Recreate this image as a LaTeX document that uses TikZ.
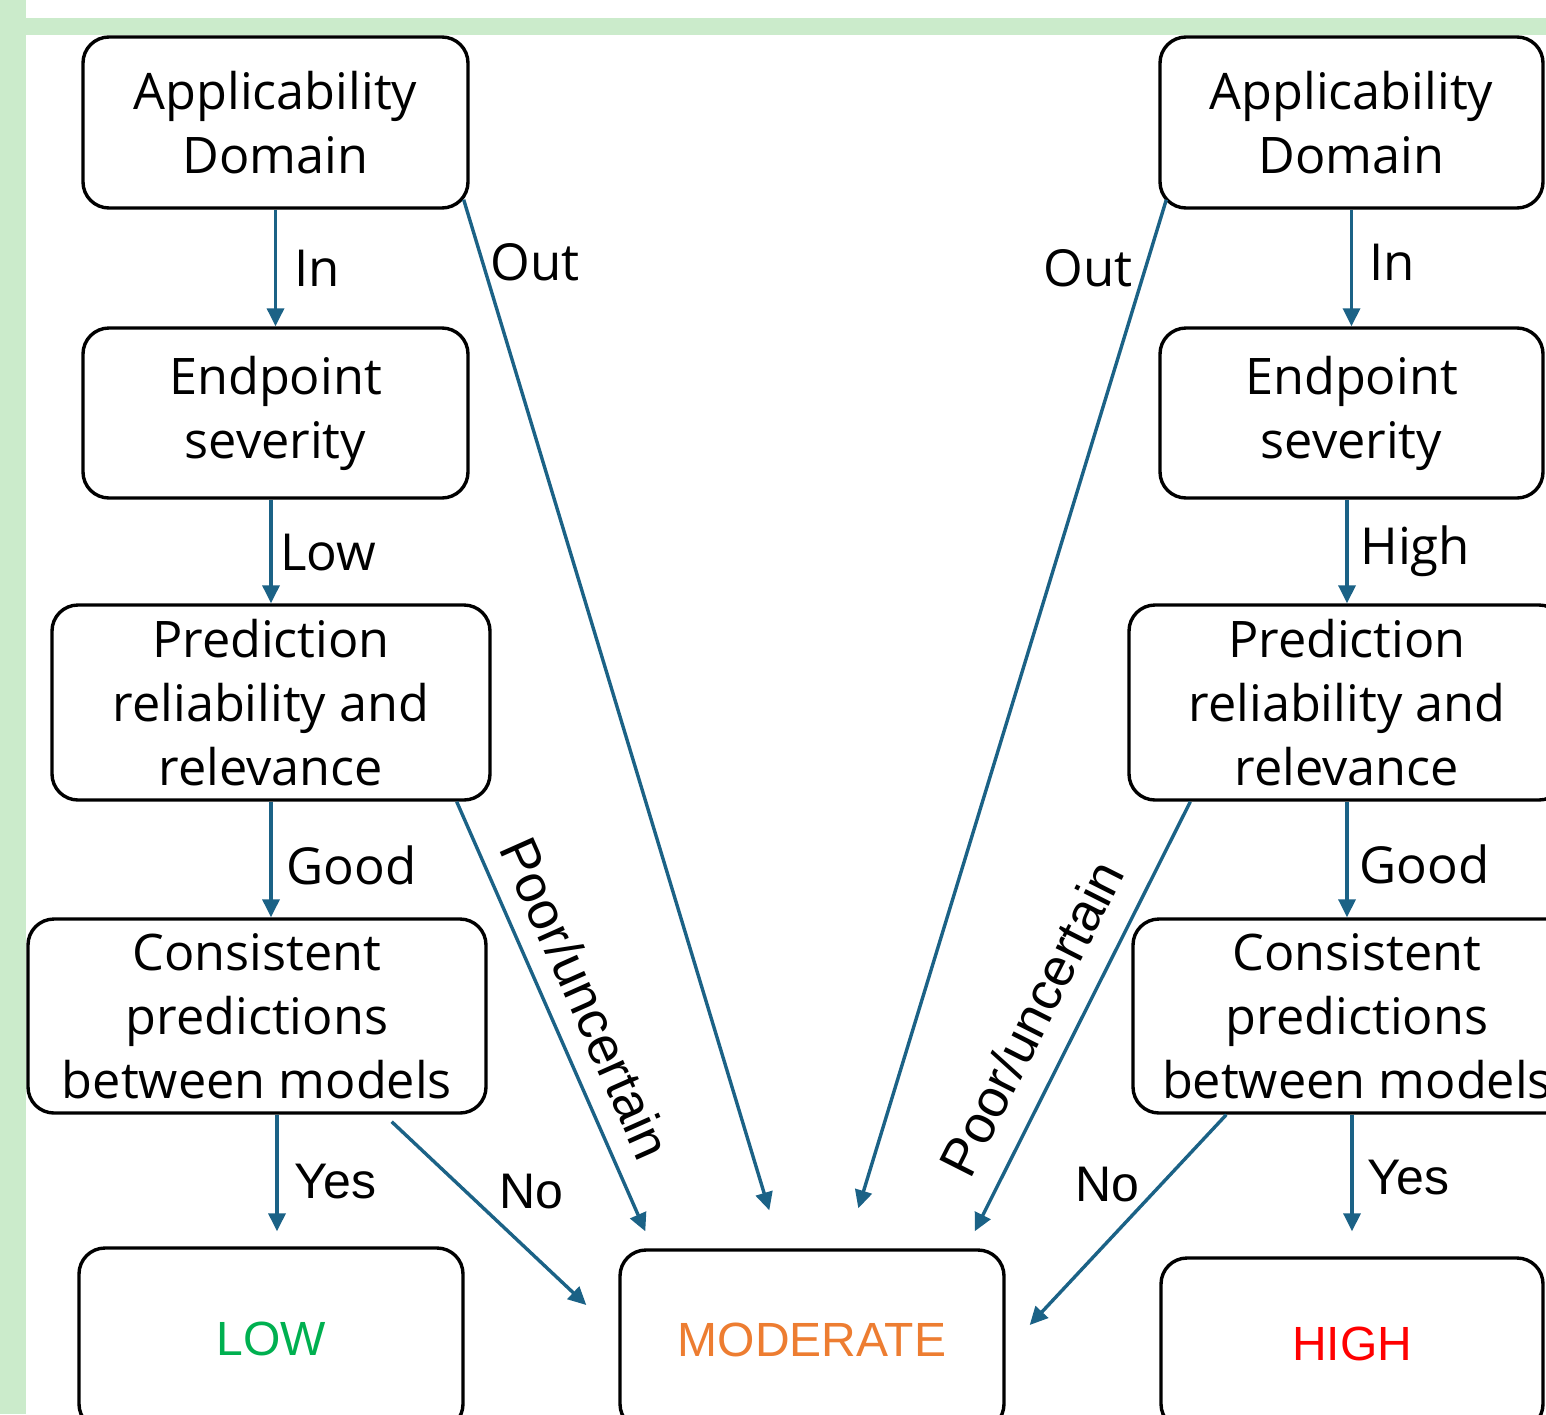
\documentclass[tikz,border=0pt]{standalone}
\usepackage{fontspec}
\setmainfont{Open Sans}
\newfontfamily\arialf{Liberation Sans}
\usetikzlibrary{arrows.meta,calc}
\definecolor{bandgreen}{RGB}{203,235,203}
\definecolor{arrowblue}{RGB}{27,98,134}
\definecolor{lowgreen}{RGB}{0,176,80}
\definecolor{modorange}{RGB}{237,125,49}
\definecolor{highred}{RGB}{255,0,0}
\begin{document}
\begin{tikzpicture}[x=0.5pt,y=-0.5pt,
 box/.style={draw=black, line width=1.7pt, rounded corners=13pt, align=center, font=\fontsize{25.2}{32}\selectfont, inner sep=0pt},
 outbox/.style={draw=black, line width=1.7pt, rounded corners=13pt, font=\arialf\fontsize{24}{28}\selectfont, inner sep=0pt},
 arr/.style={draw=arrowblue, line width=1.7pt, -{Triangle[length=9pt,width=8.5pt]}},
 lbl/.style={font=\fontsize{25.5}{32}\selectfont, inner sep=0pt},
 albl/.style={font=\arialf\fontsize{25}{28}\selectfont, inner sep=0pt},
 rlbl/.style={font=\arialf\fontsize{26.5}{30}\selectfont, inner sep=0pt},
]
\useasboundingbox (0,0) rectangle (1546,1414);
\fill[white] (0,0) rectangle (1546,1414);
\fill[bandgreen] (0,0) rectangle (26,1414);
\fill[bandgreen] (26,18) rectangle (1546,35);
\begin{scope}
\clip (0,0) rectangle (1546,1414);
% left column
\node[box, minimum width=192.5pt, minimum height=85.5pt] (ADL) at (275.5,122.5) {Applicability\\Domain};
\node[box, minimum width=192.5pt, minimum height=85pt] (ESL) at (275.5,413) {\raisebox{-3pt}{Endpoint}\\\raisebox{-3pt}{severity}};
\node[box, minimum width=219pt, minimum height=97.5pt] (PRRL) at (271,702.5) {Prediction\\reliability and\\relevance};
\node[box, minimum width=229pt, minimum height=97pt] (CPL) at (257,1016) {Consistent\\predictions\\between models};
\node[outbox, minimum width=192pt, minimum height=91pt, text=lowgreen] (LOW) at (271,1339) {LOW};
\node[outbox, minimum width=192pt, minimum height=90pt, text=modorange] (MOD) at (812,1340) {MODERATE};
\node[outbox, minimum width=191pt, minimum height=86pt, text=highred] (HIGH) at (1352,1344) {HIGH};
% right column
\node[box, minimum width=191.5pt, minimum height=85.5pt] (ADR) at (1351.5,122.5) {Applicability\\Domain};
\node[box, minimum width=191.5pt, minimum height=85pt] (ESR) at (1351.5,413) {\raisebox{-3pt}{Endpoint}\\\raisebox{-3pt}{severity}};
\node[box, minimum width=218pt, minimum height=97.5pt] (PRRR) at (1347,702.5) {Prediction\\reliability and\\relevance};
\node[box, minimum width=224pt, minimum height=97pt] (CPR) at (1357,1016) {Consistent\\predictions\\between models};
\end{scope}
% left connectors
\draw[arr] (ADL.south) -- (ESL.north);
\draw[arr] ($(ADL.south east)+(-6,-10)$) -- ($(MOD.north west)+(151,-38)$);
\draw[arr] (ESL.south -| PRRL.north) -- (PRRL.north);
\draw[arr] (PRRL.south) -- (PRRL.south |- CPL.north);
\draw[arr] ($(PRRL.south east)+(-35,0)$) -- ($(MOD.north west)+(27,-17)$);
\draw[arr] ($(CPL.south)+(20,0)$) -- ($(LOW.north)+(6,-15)$);
\draw[arr] ($(CPL.south east)+(-96,7)$) -- ($(MOD.west)+(-32,-35)$);
% right connectors
\draw[arr] (ADR.south) -- (ESR.north);
\draw[arr] ($(ADR.south west)+(8,-10)$) -- ($(MOD.north west)+(240,-40)$);
\draw[arr] (ESR.south -| PRRR.north) -- (PRRR.north);
\draw[arr] (PRRR.south) -- (PRRR.south |- CPR.north);
\draw[arr] ($(PRRR.south west)+(63,0)$) -- ($(MOD.north east)+(-31,-17)$);
\draw[arr] (CPR.south -| HIGH.north) -- ($(HIGH.north)+(0,-25)$);
\draw[arr] ($(CPR.south west)+(95,0)$) -- ($(MOD.east)+(24,-15)$);
% labels
\node[lbl, anchor=west] (lInL) at (294,268) {In};
\node[lbl, anchor=west] (lOutL) at (490,262) {Out};
\node[lbl, anchor=west] (lLow) at (280,553) {Low};
\node[lbl, anchor=west] (lGoodL) at (286,865) {Good};
\node[albl, anchor=west] (lYesL) at (294,1182) {Yes};
\node[albl] (lNoL) at (531,1192) {No};
\node[rlbl, rotate=-66] (lPoorL) at (586,998) {Poor/uncertain};
\node[lbl, anchor=west] (lInR) at (1369,262) {In};
\node[lbl, anchor=east] (lOutR) at (1133,268) {Out};
\node[lbl, anchor=west] (lHigh) at (1360,551) {High};
\node[lbl, anchor=west] (lGoodR) at (1359,864) {Good};
\node[albl, anchor=west] (lYesR) at (1367,1178) {Yes};
\node[albl] (lNoR) at (1107,1185) {No};
\node[rlbl, rotate=63.2] (lPoorR) at (1031,1018) {Poor/uncertain};
\end{tikzpicture}
\end{document}
